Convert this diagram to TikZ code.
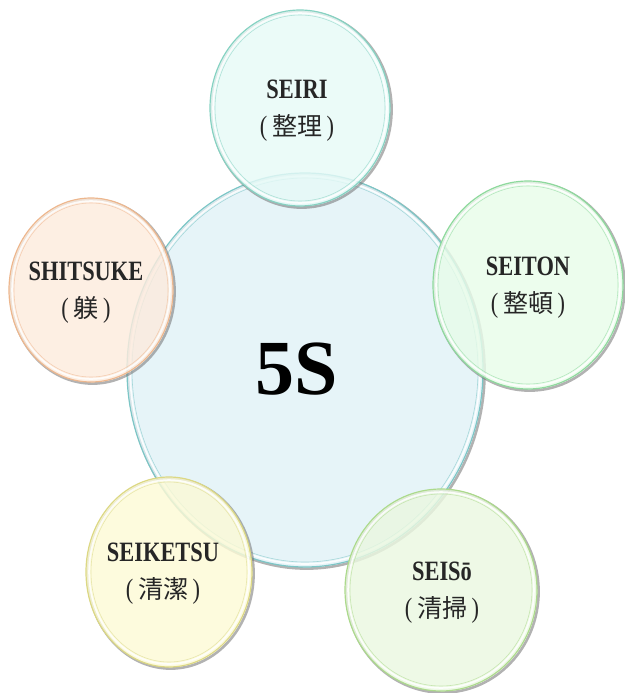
\documentclass[tikz,border=0pt]{standalone}
\usepackage{fontspec}
\setmainfont{Liberation Serif}
\newfontfamily\labfont[FakeStretch=0.8]{Liberation Serif}
\newfontfamily\cjkfont{Noto Sans CJK JP}
\definecolor{cfill}{HTML}{E0F1F7}
\definecolor{cedge}{HTML}{7CC6C6}
\definecolor{f1}{HTML}{E6FAF7}\definecolor{e1}{HTML}{86D2C2}
\definecolor{f2}{HTML}{E8FCE9}\definecolor{e2}{HTML}{8ED99D}
\definecolor{f3}{HTML}{FDEBDD}\definecolor{e3}{HTML}{EDB78E}
\definecolor{f4}{HTML}{FCFAD6}\definecolor{e4}{HTML}{DCD884}
\definecolor{f5}{HTML}{EAF8E0}\definecolor{e5}{HTML}{ACDA8C}
\newcommand\bub[6]{%
  \draw[line width=2.6pt, black!55, opacity=0.55] ([shift={(1.6,1.6)}]#1,#2) ellipse [x radius=#3pt, y radius=#4pt];
  \fill[#5, fill opacity=0.82] (#1,#2) ellipse [x radius=#3pt, y radius=#4pt];
  \draw[#6, line width=1.2pt] (#1,#2) ellipse [x radius=#3pt, y radius=#4pt];
  \draw[white, line width=1.6pt, opacity=0.85] (#1,#2) ellipse [x radius=#3pt-3pt, y radius=#4pt-3pt];
  \draw[#6!80, line width=0.6pt, opacity=0.8] (#1,#2) ellipse [x radius=#3pt-5pt, y radius=#4pt-5pt];
}
\tikzset{
  lbl/.style={align=center, inner sep=0pt, text=black!85,
    font=\labfont\bfseries\fontsize{28}{37}\selectfont},
}
\newcommand\cj[1]{{\labfont\mdseries(}\,{\cjkfont\mdseries\fontsize{25}{37}\selectfont #1}\,{\labfont\mdseries)}}
\begin{document}
\begin{tikzpicture}[x=1pt, y=-1pt]
\useasboundingbox (0,0) rectangle (624,693);
% central bubble
\bub{305}{370}{178}{197}{cfill}{cedge}
% outer bubbles
\bub{300}{108}{90}{98}{f1}{e1}
\bub{528}{285}{95}{104}{f2}{e2}
\bub{91}{290}{82}{92}{f3}{e3}
\bub{169}{572}{83}{95}{f4}{e4}
\bub{441}{590}{96}{101}{f5}{e5}
% texts
\node[lbl] (seiri) at (297,111) {SEIRI\\\cj{整理}};
\node[lbl] (seiton) at (528,288) {SEITON\\\cj{整頓}};
\node[lbl] (shitsuke) at (86,293) {SHITSUKE\\\cj{躾}};
\node[lbl] (seiketsu) at (163,574) {SEIKETSU\\\cj{清潔}};
\node[lbl] (seiso) at (442,593) {SEISō\\\cj{清掃}};
\node[inner sep=0pt, text=black, font=\bfseries\fontsize{78}{78}\selectfont] (five) at (297,369) {5S};
\end{tikzpicture}
\end{document}
